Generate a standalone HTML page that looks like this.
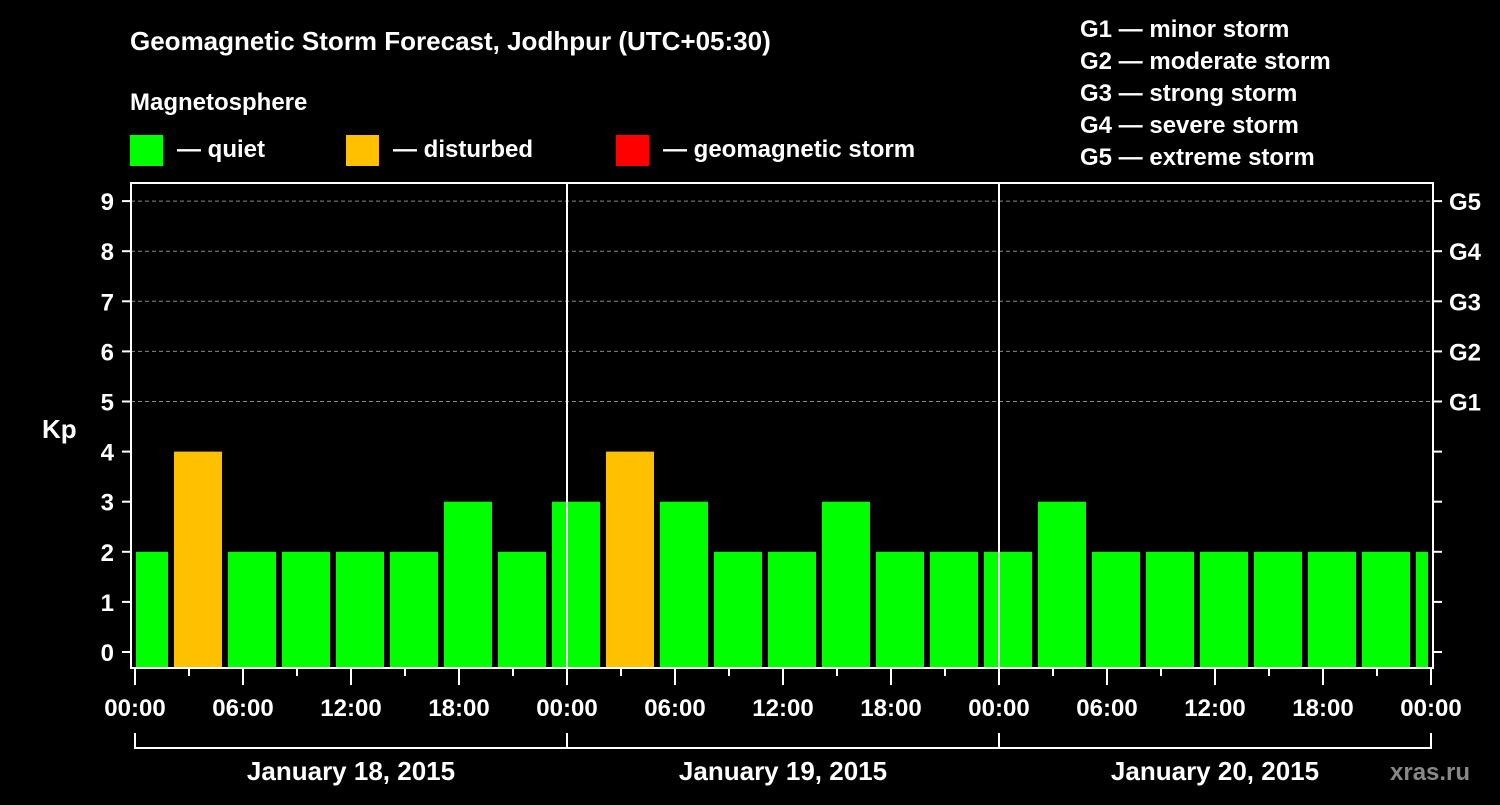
<!DOCTYPE html>
<html><head><meta charset="utf-8"><style>
body{margin:0;background:#000;width:1500px;height:800px;overflow:hidden}
svg text{font-family:"Liberation Sans",sans-serif;font-weight:bold;fill:#fff}
</style></head><body>
<svg id="c" width="1500" height="800" xmlns="http://www.w3.org/2000/svg">
<text x="130" y="50" font-size="26">Geomagnetic Storm Forecast, Jodhpur (UTC+05:30)</text>
<text x="130" y="110" font-size="24">Magnetosphere</text>
<g><rect x="130" y="135" width="33" height="31" fill="#00ff00"/><text x="177" y="157" font-size="24">— quiet</text></g>
<g><rect x="346" y="135" width="33" height="31" fill="#ffc000"/><text x="393" y="157" font-size="24">— disturbed</text></g>
<g><rect x="616" y="135" width="33" height="31" fill="#ff0000"/><text x="663" y="157" font-size="24">— geomagnetic storm</text></g>
<g font-size="24">
<text x="1080" y="37">G1 — minor storm</text>
<text x="1080" y="69">G2 — moderate storm</text>
<text x="1080" y="101">G3 — strong storm</text>
<text x="1080" y="133">G4 — severe storm</text>
<text x="1080" y="165">G5 — extreme storm</text>
</g>
<text x="42" y="438" font-size="26">Kp</text>
<text x="1390" y="780" font-size="24" fill="#888" style="fill:#888">xras.ru</text>
<g id="plot"></g>
</svg>
<script>
const kpValues=[2,4,2,2,2,2,3,2,3,4,3,2,2,3,2,2,2,3,2,2,2,2,2,2,2];
const yTicks=[0,1,2,3,4,5,6,7,8,9];
const gLabels=["G1","G2","G3","G4","G5"];
const xTickLabels=["00:00","06:00","12:00","18:00","00:00","06:00","12:00","18:00","00:00","06:00","12:00","18:00","00:00"];
const dayLabels=["January 18, 2015","January 19, 2015","January 20, 2015"];
const slotStartHour=-1, slotHours=3, totalHours=72;
const X=h=>135+18*h, Y=v=>652-50.1*v;
const NS="http://www.w3.org/2000/svg", g=document.getElementById('plot');
function mk(t,a){const e=document.createElementNS(NS,t);for(const k in a)e.setAttribute(k,a[k]);g.appendChild(e);return e;}
yTicks.forEach(v=>{
 if(v>=5){const l=mk('line',{x1:131,x2:1433,y1:Y(v),y2:Y(v),stroke:'#888','stroke-dasharray':'4,3'});
 
 }
 const t=mk('line',{x1:122,x2:131,y1:Y(v),y2:Y(v),stroke:'#fff','stroke-width':2});
 
 
 const r=mk('line',{x1:1433,x2:1442,y1:Y(v),y2:Y(v),stroke:'#fff','stroke-width':2});
 
 
 const tx=mk('text',{x:114,y:Y(v)+9,'font-size':24,'text-anchor':'end'});tx.textContent=v;
 
 
});
gLabels.forEach((s,i)=>{const tx=mk('text',{x:1449,y:Y(5+i)+9,'font-size':24});tx.textContent=s;
 
 });
kpValues.forEach((v,k)=>{
 const s=slotStartHour+k*slotHours;
 let x0=Math.max(X(s)+3,X(0)+1), x1=Math.min(X(s+slotHours)-3,X(totalHours)-3);
 const c=v>=5?'#ff0000':(v>=4?'#ffc000':'#00ff00');
 const b=mk('rect',{x:x0,y:Y(v),width:x1-x0,height:668-Y(v),fill:c});
 
 
});
[24,48].forEach(h=>{const l=mk('line',{x1:X(h),x2:X(h),y1:183,y2:668,stroke:'#fff','stroke-width':2});
 
 });
const f=mk('rect',{x:131,y:183,width:1302,height:485,fill:'none',stroke:'#fff','stroke-width':2});


for(let h=0;h<=totalHours;h+=3){const l=mk('line',{x1:X(h),x2:X(h),y1:669,y2:h%6?676:685,stroke:'#fff','stroke-width':2});
 
 }
xTickLabels.forEach((s,i)=>{const tx=mk('text',{x:X(i*6),y:716,'font-size':24,'text-anchor':'middle'});tx.textContent=s;
 
 });
const br=mk('path',{d:`M${X(0)},733V748H${X(72)}V733M${X(24)},733V748M${X(48)},733V748`,fill:'none',stroke:'#fff','stroke-width':2});


dayLabels.forEach((s,i)=>{const tx=mk('text',{x:X(i*24+12),y:780,'font-size':26,'text-anchor':'middle'});tx.textContent=s;
 
 });
</script>
</body></html>
